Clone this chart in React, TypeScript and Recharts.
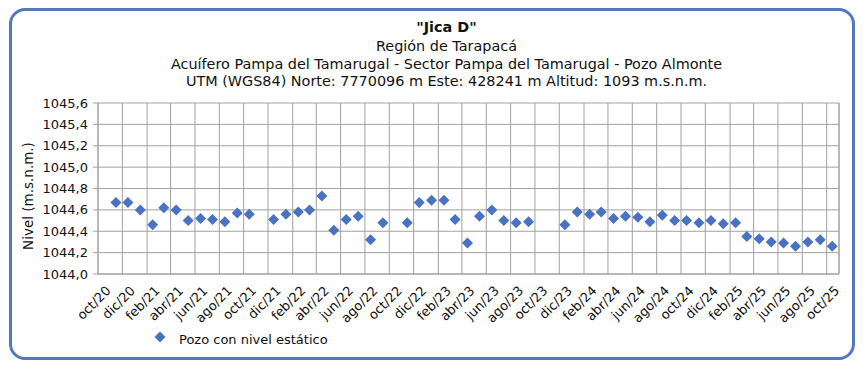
import { ScatterChart, Scatter, XAxis, YAxis, CartesianGrid, ReferenceLine } from "recharts";

// Mes de cada medición (una por mes, null = sin dato)
const months = [
  "2020-11", "2020-12", "2021-01", "2021-02", "2021-03", "2021-04", "2021-05", "2021-06",
  "2021-07", "2021-08", "2021-09", "2021-10", "2021-11", "2021-12", "2022-01", "2022-02",
  "2022-03", "2022-04", "2022-05", "2022-06", "2022-07", "2022-08", "2022-09", "2022-10",
  "2022-11", "2022-12", "2023-01", "2023-02", "2023-03", "2023-04", "2023-05", "2023-06",
  "2023-07", "2023-08", "2023-09", "2023-10", "2023-11", "2023-12", "2024-01", "2024-02",
  "2024-03", "2024-04", "2024-05", "2024-06", "2024-07", "2024-08", "2024-09", "2024-10",
  "2024-11", "2024-12", "2025-01", "2025-02", "2025-03", "2025-04", "2025-05", "2025-06",
  "2025-07", "2025-08", "2025-09", "2025-10",
];

const levels: (number | null)[] = [
  1044.67, 1044.67, 1044.6, 1044.46, 1044.62, 1044.6, 1044.5, 1044.52,
  1044.51, 1044.49, 1044.57, 1044.56, null, 1044.51, 1044.56, 1044.58,
  1044.6, 1044.73, 1044.41, 1044.51, 1044.54, 1044.32, 1044.48, null,
  1044.48, 1044.67, 1044.69, 1044.69, 1044.51, 1044.29, 1044.54, 1044.6,
  1044.5, 1044.48, 1044.49, null, null, 1044.46, 1044.58, 1044.56,
  1044.58, 1044.52, 1044.54, 1044.53, 1044.49, 1044.55, 1044.5, 1044.5,
  1044.48, 1044.5, 1044.47, 1044.48, 1044.35, 1044.33, 1044.3, 1044.29,
  1044.26, 1044.3, 1044.32, 1044.26,
];

const tickLabels = [
  "oct/20", "dic/20", "feb/21", "abr/21", "jun/21", "ago/21", "oct/21", "dic/21",
  "feb/22", "abr/22", "jun/22", "ago/22", "oct/22", "dic/22", "feb/23", "abr/23",
  "jun/23", "ago/23", "oct/23", "dic/23", "feb/24", "abr/24", "jun/24", "ago/24",
  "oct/24", "dic/24", "feb/25", "abr/25", "jun/25", "ago/25", "oct/25",
];

const yTicks = [1044.0, 1044.2, 1044.4, 1044.6, 1044.8, 1045.0, 1045.2, 1045.4, 1045.6];

const mesNum: Record<string, number> = {
  ene: 0, feb: 1, mar: 2, abr: 3, may: 4, jun: 5, jul: 6, ago: 7, sep: 8, oct: 9, nov: 10, dic: 11,
};

const labelToTime = (l: string) => {
  const [m, y] = l.split("/");
  return Date.UTC(2000 + Number(y), mesNum[m], 1);
};

const tickTimes = tickLabels.map(labelToTime);
const labelByTime: Record<number, string> = {};
tickLabels.forEach((l, i) => (labelByTime[tickTimes[i]] = l));

const data = months
  .map((m, i) => {
    const [y, mo] = m.split("-").map(Number);
    return { t: Date.UTC(y, mo - 1, 15), nivel: levels[i] };
  })
  .filter((d) => d.nivel !== null);

const xStart = Date.UTC(2020, 9, 1);
const xEnd = Date.UTC(2025, 10, 1);

const FONT = "'DejaVu Sans', Verdana, sans-serif";
const BLUE = "#4a72c2";
const GRID = "#a0a0a0";

const Diamond = (props: any) => {
  const { cx, cy } = props;
  const r = 5.5;
  return <path d={`M${cx},${cy - r}L${cx + r},${cy}L${cx},${cy + r}L${cx - r},${cy}Z`} fill={BLUE} />;
};

const titleLines = [
  { text: "\"Jica D\"", top: 19, bold: true },
  { text: "Región de Tarapacá", top: 38, bold: false },
  { text: "Acuífero Pampa del Tamarugal - Sector Pampa del Tamarugal - Pozo Almonte", top: 56, bold: false },
  { text: "UTM (WGS84) Norte: 7770096 m Este: 428241 m Altitud: 1093 m.s.n.m.", top: 73, bold: false },
];

export default function App() {
  return (
    <div style={{ position: "absolute", left: 0, top: 0, width: 867, height: 371, background: "#fff", fontFamily: FONT }}>
      <div
        style={{
          position: "absolute",
          left: 9,
          top: 8,
          width: 840,
          height: 346,
          border: "3px solid #5577bb",
          borderRadius: 16,
        }}
      />
      {titleLines.map((l) => (
        <div
          key={l.text}
          style={{
            position: "absolute",
            left: 0,
            width: 893,
            top: l.top,
            textAlign: "center",
            fontSize: 14.4,
            lineHeight: "17px",
            fontWeight: l.bold ? "bold" : "normal",
            color: "#111",
            whiteSpace: "nowrap",
          }}
        >
          {l.text}
        </div>
      ))}
      <div
        style={{
          position: "absolute",
          left: 28,
          top: 196,
          transform: "translate(-50%, -50%) rotate(-90deg)",
          fontSize: 13.5,
          color: "#111",
          whiteSpace: "nowrap",
        }}
      >
        Nivel (m.s.n.m.)
      </div>
      <div style={{ position: "absolute", left: 0, top: 0 }}>
        <ScatterChart width={867} height={371} margin={{ top: 103, right: 28, bottom: 37, left: 38 }}>
          <CartesianGrid stroke={GRID} strokeWidth={1} />
          <XAxis
            type="number"
            dataKey="t"
            domain={[xStart, xEnd]}
            ticks={tickTimes}
            interval={0}
            tickFormatter={(v: number) => labelByTime[v] ?? ""}
            height={60}
            angle={-45}
            textAnchor="end"
            tickLine={false}
            tickSize={4}
            tickMargin={7}
            axisLine={{ stroke: GRID }}
            tick={{ fontSize: 13, fill: "#111", fontFamily: FONT, dx: 7 }}
          />
          <YAxis
            type="number"
            dataKey="nivel"
            domain={[1044.0, 1045.6]}
            ticks={yTicks}
            interval={0}
            width={60}
            tickSize={5}
            tickMargin={5}
            tickFormatter={(v: number) => v.toFixed(1).replace(".", ",")}
            axisLine={{ stroke: GRID }}
            tickLine={{ stroke: GRID }}
            tick={{ fontSize: 13, fill: "#111", fontFamily: FONT }}
          />
          <ReferenceLine x={xEnd} stroke={GRID} />
          <Scatter data={data} fill={BLUE} shape={<Diamond />} isAnimationActive={false} />
        </ScatterChart>
      </div>
      <svg style={{ position: "absolute", left: 153, top: 330 }} width={14} height={14}>
        <path d="M7,1.5L12.5,7L7,12.5L1.5,7Z" fill={BLUE} />
      </svg>
      <div style={{ position: "absolute", left: 179, top: 332, fontSize: 13, lineHeight: "16px", color: "#111" }}>
        Pozo con nivel estático
      </div>
    </div>
  );
}
